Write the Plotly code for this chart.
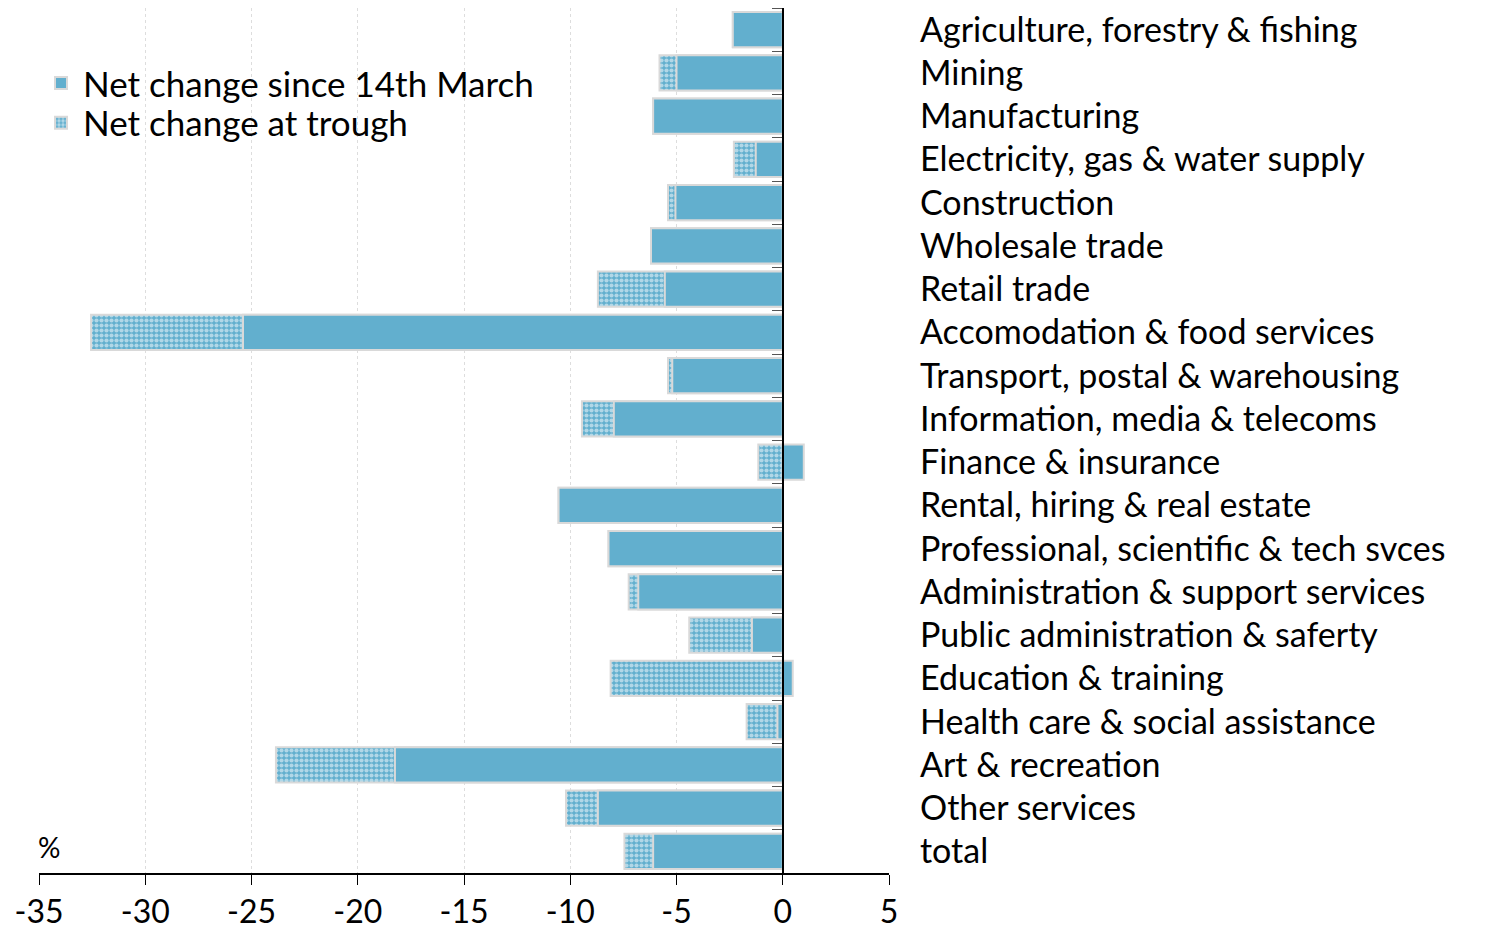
import plotly.graph_objects as go

# ---------------- Data ----------------
industries = [
    "Agriculture, forestry & fishing", "Mining", "Manufacturing",
    "Electricity, gas & water supply", "Construction", "Wholesale trade",
    "Retail trade", "Accomodation & food services",
    "Transport, postal & warehousing", "Information, media & telecoms",
    "Finance & insurance", "Rental, hiring & real estate",
    "Professional, scientific & tech svces", "Administration & support services",
    "Public administration & saferty", "Education & training",
    "Health care & social assistance", "Art & recreation", "Other services", "total",
]

since_march = [-2.35, -5.0, -6.1, -1.27, -5.05, -6.2, -5.55, -25.4, -5.2, -7.95,
               0.99, -10.55, -8.2, -6.8, -1.45, 0.47, -0.25, -18.25, -8.7, -6.1]
at_trough = [-2.35, -5.8, -6.1, -2.3, -5.4, -6.2, -8.7, -32.55, -5.4, -9.45,
             -1.15, -10.55, -8.2, -7.25, -4.4, -8.1, -1.7, -23.85, -10.2, -7.45]

x_ticks = [-35, -30, -25, -20, -15, -10, -5, 0, 5]
x_tick_text = ["-35", "-30", "-25", "-20", "-15", "-10", "-5", "0", "5"]

BLUE = "#62afce"
EDGE = "#d9d9d9"
FONT = "Lato"

fig = go.Figure()

# trough first so it sits behind the current bars
fig.add_trace(go.Bar(
    x=at_trough, y=industries, orientation="h", name="Net change at trough",
    width=0.82, legend="legend2",
    marker=dict(color=BLUE, line=dict(color=EDGE, width=2),
                pattern=dict(shape=".", fgcolor="white", bgcolor=BLUE,
                             size=5, solidity=0.55, fillmode="overlay")),
))
fig.add_trace(go.Bar(
    x=since_march, y=industries, orientation="h", name="Net change since 14th March",
    width=0.82, legend="legend",
    marker=dict(color=BLUE, line=dict(color=EDGE, width=2)),
))
# invisible helper so the label axis on the right gets its categories
fig.add_trace(go.Scatter(
    x=[0] * len(industries), y=industries, yaxis="y2", mode="markers",
    marker=dict(opacity=0), showlegend=False, hoverinfo="skip",
))

zero_pos = (0 - x_ticks[0]) / (x_ticks[-1] - x_ticks[0])
n = len(industries)
legend_style = dict(x=0.0, xanchor="left", yanchor="middle",
                    bgcolor="rgba(0,0,0,0)", font=dict(size=35), itemwidth=34)

# page body adds an 8px offset, so the figure is 8px smaller than the window
fig.update_layout(
    width=1488, height=921,
    margin=dict(l=31, r=607, t=0, b=56, autoexpand=False),
    plot_bgcolor="white", paper_bgcolor="white",
    barmode="overlay",
    font=dict(family=FONT, size=33, color="black"),
    showlegend=True,
    legend=dict(y=0.913, **legend_style),
    legend2=dict(y=0.867, **legend_style),
    xaxis=dict(
        range=[x_ticks[0], x_ticks[-1]], tickvals=x_ticks, ticktext=x_tick_text,
        showgrid=True, gridcolor="#dddddd", griddash="dot", gridwidth=1,
        zeroline=False, showline=True, linecolor="black", linewidth=1.5,
        ticks="outside", ticklen=10, tickcolor="black", automargin=False,
        tickfont=dict(size=32), domain=[0, 1],
    ),
    yaxis=dict(
        type="category", categoryorder="array", categoryarray=industries,
        range=[n - 0.5, -0.5], anchor="free", position=zero_pos,
        showline=True, linecolor="black", linewidth=1.5, automargin=False,
        ticks="outside", ticklen=10, tickcolor="#555555", tickson="boundaries",
        showticklabels=False, showgrid=False,
    ),
    yaxis2=dict(
        type="category", categoryorder="array", categoryarray=industries,
        range=[n - 0.5, -0.5], overlaying="y", side="right", anchor="x",
        showline=False, ticks="", showgrid=False, ticklabelstandoff=30,
        automargin=False, tickfont=dict(size=34),
    ),
)

# white panel behind the legend hides the gridlines there
fig.add_shape(type="rect", xref="paper", yref="paper", x0=0.002, x1=0.62,
              y0=0.844, y1=0.9376, fillcolor="white", line_width=0,
              layer="between")

fig.add_annotation(text="%", x=-0.004, y=0.03, xref="paper", yref="paper",
                   xanchor="left", yanchor="middle", showarrow=False,
                   font=dict(size=28))

fig.write_html("out.html")
